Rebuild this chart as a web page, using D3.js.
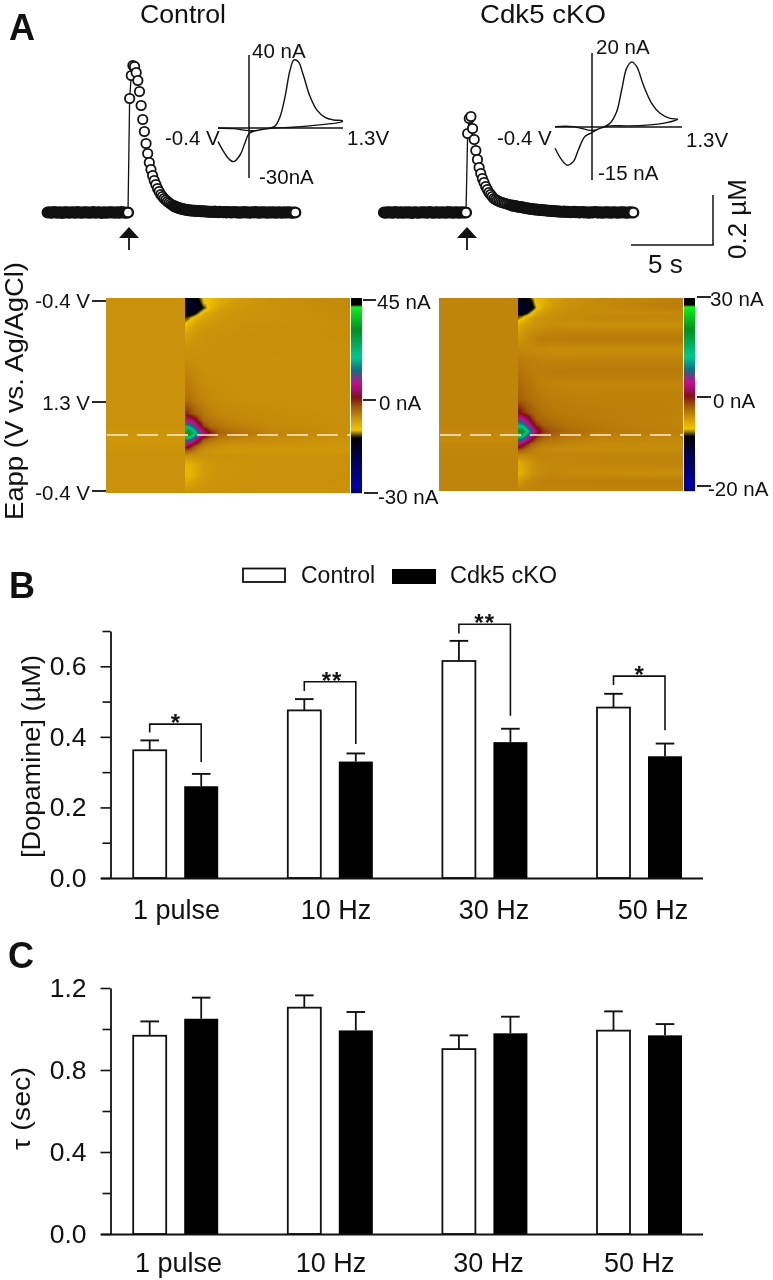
<!DOCTYPE html>
<html><head><meta charset="utf-8">
<script src="https://cdn.jsdelivr.net/npm/d3@7/dist/d3.min.js"></script>
<style>
html,body{margin:0;padding:0;background:#fff;overflow:hidden}
svg{display:block;filter:blur(.45px)}
text{font-family:"Liberation Sans",Arial,sans-serif;fill:#111}
</style></head><body>
<svg id="fig" width="773" height="1280"></svg>
<script>
// ---------- Panel B / C bar data ----------
const categories = ["1 pulse","10 Hz","30 Hz","50 Hz"];
const groups = ["Control","Cdk5 cKO"];
const dopamineControl = [0.362,0.475,0.615,0.483];
const dopamineControlErr = [0.390,0.507,0.672,0.522];
const dopamineCko = [0.260,0.330,0.385,0.345];
const dopamineCkoErr = [0.295,0.353,0.423,0.381];
const tauControl = [0.967,1.104,0.902,0.992];
const tauControlErr = [1.037,1.164,0.969,1.086];
const tauCko = [1.050,0.993,0.979,0.969];
const tauCkoErr = [1.153,1.083,1.060,1.024];
const sigStars = ["*","**","**","*"];
const sigTop = [0.436,0.556,0.719,0.572];
const sigLeftEnd = [0.412,0.530,0.693,0.547];
const sigRightEnd = [0.329,0.380,0.460,0.419];

// ---------- Panel A dopamine traces (uM), sampled at 10 Hz ----------
const ctrlPre = [0,.001,-.001,0,.002,0,-.001,.001,0,-.002,.001,0,.001,-.001,0,.001,0,-.001,.002,0,0,-.001,.001,0,.001,-.001,0,0,.002,-.001,0,.001,0,-.002,.001,0,-.001,.001,0,.001,0,-.001,.001,0,-.001,.002,0,0,-.001,0];
const ctrlPost = [0,.456,.548,.588,.584,.56,.528,.484,.428,.372,.324,.276,.236,.2,.172,.148,.128,.112,.096,.084,.072,.064,.056,.05,.044,.039,.034,.03,.026,.023,.02,.018,.016,.014,.013,.011,.01,.009,.008,.008,.007,.007,.006,.006,.005,.005,.005,.004,.004,.003,.003,.003,.002,.004,.002,.001,.003,.002,.001,.002,0,.002,.001,0,.001,.002,0,.001,-.001,.001,0,.002,0,.001,-.001,0,.001,0,.002,0,-.001,.001,0,.001,0,-.001,.001,0,0,.001,-.001,0,.001,0,-.001,.001,0,0,.001,0,-.001,0,0];
const ckoPre = [0,-.001,.001,0,.001,-.001,0,.002,0,-.001,.001,0,-.001,.001,0,0,.001,-.002,0,.001,0,-.001,0,.001,0,.001,-.001,0,.002,0,-.001,0,.001,0,-.001,.001,0,0,-.001,.002,0,.001,-.001,0,.001,0,-.001,.001,0,0,0];
const ckoPost = [0,.316,.376,.384,.336,.292,.248,.212,.18,.156,.136,.12,.104,.092,.08,.072,.064,.056,.052,.048,.045,.042,.04,.038,.036,.034,.032,.03,.028,.027,.026,.024,.023,.022,.021,.02,.018,.017,.016,.015,.014,.013,.012,.012,.011,.01,.01,.009,.009,.008,.007,.007,.006,.006,.005,.005,.004,.004,.003,.003,.004,.002,.003,.002,.001,.002,.003,.001,.002,0,.001,.002,0,.001,0,-.001,.001,0,.001,.002,0,0,.001,-.001,0,.001,0,.001,-.001,0,.001,0,0,-.001,.001,0,.001,0,-.001,0,.001,0,0];

// ---------- Panel A cyclic voltammograms: V, nA ----------
const cvCtrlV = [-.4,-.19,.026,.216,.375,.444,.512,.58,.634,.693,.76,.852,.943,1.056,1.17,1.29,1.29,.943,.62,.35,.16,.026,-.035,-.1,-.19,-.26,-.35,-.4];
const cvCtrlI = [0,-.4,-1.6,-.8,1.1,6.2,17.2,31.8,37.3,36.3,29,17.2,9.9,5.8,4.4,4,3.5,1.6,.4,0,-1.2,-3.2,-9.2,-16.2,-20.2,-18.1,-12.2,-8.2];
const cvCkoV = [-.4,-.155,.095,.2,.336,.425,.492,.56,.627,.694,.782,.894,1.006,1.14,1.243,1.095,.828,.56,.336,.2,.095,0,-.088,-.155,-.235,-.31,-.4];
const cvCkoI = [.1,.1,-1,-.4,1,4.1,10,15.9,17.6,16.3,11.4,6.4,3.7,2.35,2.1,1.2,.5,.3,.3,-.4,-1.6,-2.7,-6.5,-9.8,-10.8,-9.3,-6];

// ---------- Panel A colour plots: scan position (%), time (s), current (nA) ----------
const heatTimes = [0,4.85,4.86,5.1,5.4,5.7,6,6.4,7,8,10,15];
const heatScan = [0,2.6,5.1,7.7,10.3,13.8,17.4,21.5,26.7,31.8,37.9,44.6,52.3,59.5,62.6,65.6,69.2,72.8,75.9,78.5,81,85.6,90.8,94.9,100];
const heatCtrl = [
[-5.6,-5.6,-12,-13,-13,-11.5,-9.2,-9,-7.6,-6.5,-5.6,-5],
[-5.6,-5.6,-13,-15,-14,-13,-9.6,-8.8,-7.4,-6.2,-5.6,-5],
[-5.6,-5.6,-13,-16,-15,-14,-11.5,-8.4,-6.8,-6,-5.6,-5],
[-5.6,-5.6,-13,-14,-13,-10.6,-8,-7,-6.2,-5.8,-5.6,-5.1],
[-5.6,-5.6,-11.5,-10.6,-8.8,-7.4,-6.8,-6.4,-6,-5.7,-5.6,-5.2],
[-5.6,-5.6,-9,-8,-7,-6.6,-6.2,-6,-5.8,-5.6,-5.5,-5.3],
[-5.6,-5.6,-7.4,-6.8,-6.3,-6,-5.8,-5.7,-5.6,-5.5,-5.4,-5.3],
[-5.6,-5.6,-6.4,-6.2,-5.9,-5.7,-5.6,-5.5,-5.5,-5.4,-5.4,-5.3],
[-5.6,-5.6,-5.6,-5.6,-5.6,-5.6,-5.5,-5.5,-5.5,-5.4,-5.4,-5.4],
[-5.6,-5.6,-5.2,-5.3,-5.4,-5.4,-5.5,-5.5,-5.5,-5.5,-5.5,-5.4],
[-5.6,-5.6,-4.6,-4.8,-5,-5.2,-5.3,-5.4,-5.4,-5.5,-5.5,-5.4],
[-5.6,-5.6,-4,-4.2,-4.6,-4.9,-5.1,-5.3,-5.3,-5.4,-5.5,-5.4],
[-5.6,-5.6,-3.2,-3.4,-3.9,-4.4,-4.7,-5,-5.2,-5.3,-5.4,-5.4],
[-5.6,-5.6,1,-.5,-2,-3,-3.8,-4.4,-4.8,-5,-5.2,-5.4],
[-5.6,-5.6,8,7,4,-.5,-3,-3.8,-4.4,-4.8,-5.1,-5.4],
[-5.6,-5.6,17,16,11,5,-1,-3,-3.8,-4.4,-5,-5.4],
[-5.8,-5.8,30,34,24,13,7,1,-2.5,-3.5,-4.6,-5.4],
[-6,-6,15,14,9,3,-2,-3.5,-4.5,-4.9,-5.3,-5.8],
[-5.8,-5.8,5.5,3,-1,-3.5,-4.6,-5.2,-5.5,-5.7,-5.8,-6],
[-5.6,-5.6,-2,-3,-4,-5,-5.5,-5.8,-6,-6,-6,-6],
[-5.6,-5.6,-5.6,-5.6,-5.6,-5.6,-5.6,-5.6,-5.6,-5.6,-5.6,-5.6],
[-5.6,-5.6,-8.4,-8.2,-7.6,-7,-6.4,-6,-5.8,-5.7,-5.6,-5.6],
[-5.6,-5.6,-8.8,-8.4,-7.8,-7,-6.4,-6,-5.8,-5.7,-5.6,-5.5],
[-5.6,-5.6,-7.4,-7,-6.6,-6.2,-6,-5.8,-5.7,-5.6,-5.6,-5.5],
[-5.6,-5.6,-5.6,-5.6,-5.6,-5.6,-5.6,-5.6,-5.6,-5.6,-5.6,-5.6]];
const heatCko = [
[-3.7,-3.7,-8,-9,-9,-7.6,-6,-5.8,-5,-4.4,-4,-3.6],
[-3.7,-3.7,-8.8,-10,-9.4,-8.6,-6.2,-5.8,-4.8,-4.3,-3.9,-3.4],
[-3.7,-3.7,-9,-10.6,-10,-9.2,-7,-5.4,-4.6,-4.2,-3.9,-3.5],
[-3.7,-3.7,-8.6,-9.4,-8.6,-6.8,-5.2,-4.7,-4.3,-4,-4,-3.9],
[-3.7,-3.7,-7.6,-7,-5.6,-4.8,-4.5,-4.3,-4.1,-3.9,-3.8,-3.8],
[-3.7,-3.7,-6,-5.2,-4.8,-4.5,-4.3,-4.2,-4.1,-4.2,-4.2,-4.2],
[-3.7,-3.7,-5,-4.6,-4.3,-4.1,-3.9,-3.8,-3.7,-3.7,-3.7,-3.7],
[-3.7,-3.7,-4.4,-4.2,-4,-3.8,-3.5,-3.4,-3.4,-3.3,-3.3,-3.3],
[-3.7,-3.7,-3.8,-3.8,-3.9,-3.9,-4,-4,-4.1,-4.1,-4.1,-4.1],
[-3.7,-3.7,-3.4,-3.5,-3.5,-3.6,-3.6,-3.7,-3.7,-3.7,-3.6,-3.6],
[-3.7,-3.7,-3,-3.1,-3.3,-3.4,-3.4,-3.4,-3.3,-3.3,-3.3,-3.3],
[-3.7,-3.7,-2.6,-2.8,-3,-3.2,-3.4,-3.6,-3.7,-3.8,-3.8,-3.8],
[-3.7,-3.7,-2.2,-2.4,-2.7,-2.9,-3.1,-3.3,-3.4,-3.5,-3.6,-3.6],
[-3.7,-3.7,.7,-.4,-1.4,-2,-2.6,-3,-3.2,-3.3,-3.4,-3.6],
[-3.7,-3.7,5.5,4.6,2,-.8,-2.2,-2.6,-3,-3.2,-3.4,-3.7],
[-3.7,-3.7,11,10,6,1.6,-1,-2.2,-2.6,-3,-3.3,-3.7],
[-3.8,-3.8,20,22,14,7,2,-.8,-2,-2.7,-3.2,-3.6],
[-4,-4,10,9.4,5,1,-1.4,-2.4,-3,-3.4,-3.7,-3.9],
[-3.8,-3.8,3.6,1.6,-.8,-2.4,-3,-3.4,-3.6,-3.8,-4,-4],
[-3.7,-3.7,-1.4,-2,-2.8,-3.4,-3.7,-3.9,-4,-4,-4,-4],
[-3.7,-3.7,-3.7,-3.7,-3.7,-3.7,-3.7,-3.7,-3.7,-3.7,-3.7,-3.7],
[-3.7,-3.7,-5.6,-5.4,-4.8,-4.4,-4.1,-3.9,-3.8,-3.8,-3.7,-3.7],
[-3.7,-3.7,-5.9,-5.6,-4.9,-4.4,-4.1,-3.9,-3.8,-3.9,-4,-4.1],
[-3.7,-3.7,-4.8,-4.4,-4,-3.9,-3.7,-3.6,-3.6,-3.6,-3.5,-3.5],
[-3.7,-3.7,-3.7,-3.7,-3.7,-3.7,-3.7,-3.7,-3.7,-3.7,-3.7,-3.7]];
// colour ramp: position along the colour bar (0 top .. 1 bottom)
const rampPos = [0,.035,.046,.164,.303,.369,.436,.472,.508,.559,.615,.677,.718,.815,.969,1];
const rampCol = ["#000000","#000000","#10f020","#009020","#00c890","#107080","#c0108a","#a01070","#801010","#a05808","#c8900a","#f2c400","#000000","#000050","#0000a8","#000060"];

// ---------- helpers ----------
const svg = d3.select("#fig");
const ramp = d3.scaleLinear().domain(rampPos).range(rampCol).clamp(true);
function label(x,y,s,size,opt={}){
  const t = svg.append("text").attr("x",x).attr("y",y).attr("font-size",size).text(s);
  if(opt.anchor) t.attr("text-anchor",opt.anchor);
  if(opt.bold) t.attr("font-weight","bold");
  if(opt.rot) t.attr("transform",`rotate(-90 ${x} ${y})`);
  if(opt.len) t.attr("textLength",opt.len).attr("lengthAdjust","spacingAndGlyphs");
  if(opt.spacing) t.attr("letter-spacing",opt.spacing);
  return t;
}
function seg(x1,y1,x2,y2,w=1.5,c="#111"){
  svg.append("line").attr("x1",x1).attr("y1",y1).attr("x2",x2).attr("y2",y2).attr("stroke",c).attr("stroke-width",w);
}

// ---------- panel labels and titles ----------
label(9,40,"A",36,{bold:true});
label(9,598,"B",36,{bold:true});
label(8,968,"C",36,{bold:true});
label(140,23,"Control",25.4,{len:86});
label(480,23,"Cdk5 cKO",25.4,{len:126});

// ---------- traces ----------
function trace(pre,post,x0){
  const vals = pre.slice(0,-1).map((v,i)=>({t:(i-pre.length+1)/10,v})).concat(post.map((v,i)=>({t:i/10,v})));
  const x = d3.scaleLinear().domain([0,5]).range([x0,x0+82]);
  const y = d3.scaleLinear().domain([0,.2]).range([212.5,162.5]);
  svg.append("path").attr("fill","none").attr("stroke","#111").attr("stroke-width",1.3)
    .attr("d",d3.line().x(d=>x(d.t)).y(d=>y(d.v))(vals.filter(d=>d.t>=0&&d.t<=.3)));
  svg.append("g").selectAll("circle").data(vals).join("circle")
    .attr("cx",d=>x(d.t)).attr("cy",d=>y(d.v)).attr("r",4.7)
    .attr("fill","#fff").attr("stroke","#111")
    .attr("stroke-width",d=>(d.v<.03)?2.8:1.8);
  // stimulus arrow
  const ax = x(0)+1;
  svg.append("path").attr("fill","#111").attr("d",d3.line()([[ax,227],[ax+10,238],[ax-10,238]])+"Z");
  seg(ax,236,ax,250,1.8);
  // last pre-stimulus and last recorded samples stay open circles
  svg.append("g").selectAll("circle").data([vals[pre.length-1],vals[vals.length-1]]).join("circle")
    .attr("cx",d=>x(d.t)).attr("cy",d=>y(d.v)).attr("r",4.6)
    .attr("fill","#fff").attr("stroke","#111").attr("stroke-width",1.6);
}
trace(ctrlPre,ctrlPost,128);
trace(ckoPre,ckoPost,466);

// ---------- voltammograms ----------
function cv(V,I,vx,left,right,top,zero,bottom,imax,imin){
  const x = d3.scaleLinear().domain([-.4,1.3]).range([left,right]);
  const y = d3.scaleLinear().domain([imin,0,imax]).range([bottom,zero,top]);
  seg(vx,y(imax),vx,y(imin),1.5);
  seg(x(-.4),y(0),x(1.3),y(0),1.5);
  svg.append("path").attr("fill","none").attr("stroke","#111").attr("stroke-width",1.4)
    .attr("d",d3.line().x(d=>x(d[0])).y(d=>y(d[1])).curve(d3.curveCatmullRom)(V.map((v,i)=>[v,I[i]])));
}
cv(cvCtrlV,cvCtrlI,249,218,343,55,128,178,40,-30);
cv(cvCkoV,cvCkoI,592,555,682,53,127,180,20,-15);
label(252,58,"40 nA",20.5); label(165,145,"-0.4 V",20.5); label(347,145,"1.3V",20.5); label(259,184,"-30nA",20.5);
label(596,54,"20 nA",20.5); label(497,145,"-0.4 V",20.5); label(686,147,"1.3V",20.5); label(598,180,"-15 nA",20.5);

// scale bars
seg(631,245,713.7,245,1.5); seg(713,195,713,245,1.5);
label(648,273,"5 s",26);
label(746,259,"0.2 µM",26,{rot:true});

// ---------- colour plots ----------
function heat(matrix,left,right,top,bottom,zeroFrac,hi,lo){
  const w = right-left, h = bottom-top;
  const x = d3.scaleLinear().domain([0,15]).range([left,right]);
  const y = d3.scaleLinear().domain([0,100]).range([top,bottom]);
  const toRamp = d3.scaleLinear().domain([hi,0,lo]).range([0,zeroFrac,1]);
  const cv = document.createElement("canvas"); cv.width=w; cv.height=h;
  const ctx = cv.getContext("2d");
  const img = ctx.createImageData(w,h);
  const bt = d3.bisector(d=>d).right;
  for(let j=0;j<h;j++){
    const s = y.invert(top+j+.5);
    const r = Math.min(Math.max(bt(heatScan,s)-1,0),heatScan.length-2);
    const fs = (s-heatScan[r])/(heatScan[r+1]-heatScan[r]);
    for(let i=0;i<w;i++){
      const t = x.invert(left+i+.5);
      const c = Math.min(Math.max(bt(heatTimes,t)-1,0),heatTimes.length-2);
      const ft = (t-heatTimes[c])/(heatTimes[c+1]-heatTimes[c]);
      const v = (matrix[r][c]*(1-ft)+matrix[r][c+1]*ft)*(1-fs)+(matrix[r+1][c]*(1-ft)+matrix[r+1][c+1]*ft)*fs;
      const col = d3.rgb(ramp(toRamp(v)));
      const k = (j*w+i)*4;
      img.data[k]=col.r; img.data[k+1]=col.g; img.data[k+2]=col.b; img.data[k+3]=255;
    }
  }
  ctx.putImageData(img,0,0);
  svg.append("image").attr("x",left).attr("y",top).attr("width",w).attr("height",h).attr("href",cv.toDataURL());
  // dashed reference line at the oxidation peak
  svg.append("line").attr("x1",left+1).attr("x2",right+1).attr("y1",435).attr("y2",435)
    .attr("stroke","#ffeccb").attr("stroke-width",1.6).attr("stroke-dasharray","21 9");
  // colour bar
  const bar = svg.append("g");
  bar.selectAll("rect").data(d3.range(h)).join("rect")
    .attr("x",right+1).attr("y",d=>top+d).attr("width",11).attr("height",1.2)
    .attr("fill",d=>ramp((d+.5)/h));
}
heat(heatCtrl,106,350,298,493,.53,45,-30);
heat(heatCko,439,683,298,491,.513,30,-20);

seg(92,301,106,301,1.8); seg(92,402,106,402,1.8); seg(92,491,106,491,1.8);
label(90,308,"-0.4 V",20.5,{anchor:"end"});
label(90,410,"1.3 V",20.5,{anchor:"end"});
label(90,500,"-0.4 V",20.5,{anchor:"end"});
label(23,520,"Eapp (V vs. Ag/AgCl)",25,{rot:true,len:258});

seg(363,300,376,300,1.8); seg(363,400,376,400,1.8); seg(364,493,378,493,1.8);
label(377,309,"45 nA",20.5); label(379,410,"0 nA",20.5); label(378,504,"-30 nA",20.5);
seg(697,297,711,297,1.8); seg(697,397,711,397,1.8); seg(697,486,711,486,1.8);
label(710,306,"30 nA",20.5); label(713,408,"0 nA",20.5); label(708,496,"-20 nA",20.5);

// ---------- legend ----------
svg.append("rect").attr("x",243).attr("y",568.5).attr("width",42).attr("height",13.5).attr("fill","#fff").attr("stroke","#111").attr("stroke-width",1.8);
label(301,583,groups[0],23);
svg.append("rect").attr("x",392).attr("y",569).attr("width",44).attr("height",15).attr("fill","#000");
label(450,583,groups[1],23.5);

// ---------- bar panels ----------
const groupX = d3.scaleBand().domain(categories).range([132.7,132.7+4*154.6]);
const barX = d3.scaleBand().domain(groups).range([0,85.5]).paddingInner(.34);

function barPanel(opt){
  const y = d3.scaleLinear().domain([0,opt.max]).range([opt.base,opt.top]);
  const g = svg.append("g");
  const rows = [];
  categories.forEach((c,i)=>{
    rows.push({c,g:groups[0],v:opt.a[i],e:opt.ae[i]});
    rows.push({c,g:groups[1],v:opt.b[i],e:opt.be[i]});
  });
  const cx = d=>groupX(d.c)+barX(d.g)+barX.bandwidth()/2;
  // error bars
  g.selectAll("line.stem").data(rows).join("line").attr("class","stem")
    .attr("x1",cx).attr("x2",cx).attr("y1",d=>y(d.v)).attr("y2",d=>y(d.e)).attr("stroke","#111").attr("stroke-width",1.8);
  g.selectAll("line.cap").data(rows).join("line").attr("class","cap")
    .attr("x1",d=>cx(d)-9.3).attr("x2",d=>cx(d)+9.3).attr("y1",d=>y(d.e)).attr("y2",d=>y(d.e)).attr("stroke","#111").attr("stroke-width",1.9);
  // bars
  g.selectAll("rect").data(rows).join("rect")
    .attr("x",d=>groupX(d.c)+barX(d.g)+(d.g===groups[0]?.5:0))
    .attr("y",d=>y(d.v))
    .attr("width",d=>barX.bandwidth()-(d.g===groups[0]?1:0))
    .attr("height",d=>opt.base-y(d.v))
    .attr("fill",d=>d.g===groups[0]?"#fff":"#000")
    .attr("stroke",d=>d.g===groups[0]?"#111":"none").attr("stroke-width",1.8);
  // y axis
  const axis = svg.append("g").attr("transform",`translate(110.5,0)`)
    .call(d3.axisLeft(y).tickValues(opt.ticks).tickFormat(d=>opt.major.includes(d)?d3.format(".1f")(d):"").tickSizeOuter(0));
  axis.select(".domain").attr("stroke","#111").attr("stroke-width",1.8);
  axis.selectAll(".tick line").attr("stroke","#111").attr("stroke-width",1.6).attr("x2",d=>opt.major.includes(d)?-10:-8);
  axis.selectAll(".tick text").attr("x",-24).attr("font-size",26.5).attr("font-family",null).attr("fill","#111");
  // x axis
  const lab = d3.scaleOrdinal().domain(categories).range(opt.labelX);
  const xa = svg.append("g").attr("transform",`translate(0,${opt.base})`).call(d3.axisBottom(lab).tickSize(0));
  xa.select(".domain").remove();
  xa.selectAll(".tick text").attr("y",opt.labelDy).attr("dy",0).attr("font-size",27).attr("font-family",null).attr("fill","#111");
  seg(101,opt.base+.5,703,opt.base+.5,1.8);
  return {y,cx};
}
const pB = barPanel({a:dopamineControl,ae:dopamineControlErr,b:dopamineCko,be:dopamineCkoErr,max:.7,base:878,top:631,
  ticks:[0,.1,.2,.3,.4,.5,.6,.7],major:[0,.2,.4,.6],labelX:[176,335.5,493.5,652.5],labelDy:41});
barPanel({a:tauControl,ae:tauControlErr,b:tauCko,be:tauCkoErr,max:1.2,base:1234,top:988,
  ticks:[0,.2,.4,.6,.8,1,1.2],major:[0,.4,.8,1.2],labelX:[178,330.5,488,638.7],labelDy:38});

label(40,858,"[Dopamine] (µM)",25.4,{rot:true,len:203});
label(30,1150,"τ  (sec)",26,{rot:true,len:83});

// significance brackets (panel B)
categories.forEach((c,i)=>{
  const xl = pB.cx({c,g:groups[0]}), xr = pB.cx({c,g:groups[1]});
  const path = d3.line()([[xl,pB.y(sigLeftEnd[i])],[xl,pB.y(sigTop[i])],[xr,pB.y(sigTop[i])],[xr,pB.y(sigRightEnd[i])]]);
  svg.append("path").attr("d",path).attr("fill","none").attr("stroke","#111").attr("stroke-width",1.6);
  label((xl+xr)/2+(i===1?2:0),pB.y(sigTop[i])+7,sigStars[i],24,{anchor:"middle",bold:true,spacing:sigStars[i].length>1?1:0});
});
</script>
</body></html>
